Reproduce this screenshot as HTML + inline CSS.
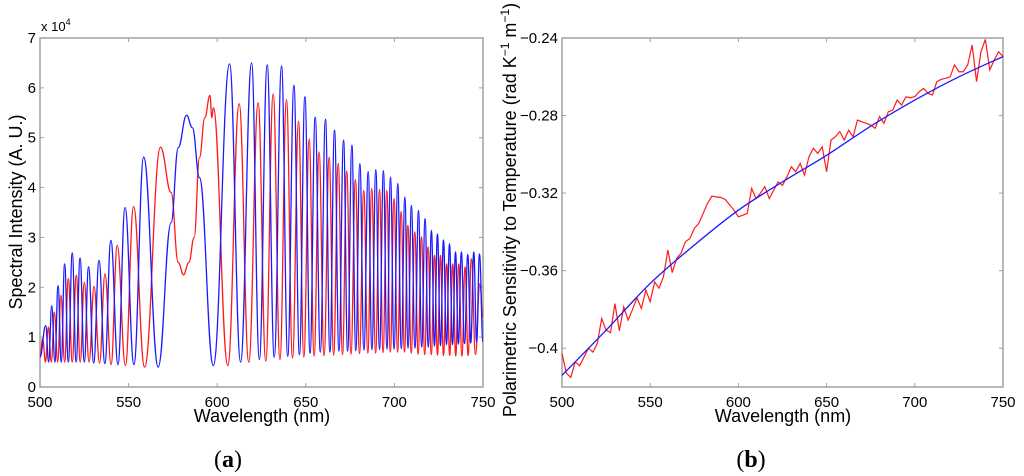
<!DOCTYPE html>
<html><head><meta charset="utf-8"><style>
html,body{margin:0;padding:0;background:#fff;width:1024px;height:476px;overflow:hidden}
svg text{font-family:"Liberation Sans",Arial,sans-serif;fill:#000}
</style></head><body>
<svg id="chart" width="1024" height="476" viewBox="0 0 1024 476" xmlns="http://www.w3.org/2000/svg"></svg>
<script>
// ---------- Panel (a) data: extrema of the spectra (wavelength nm, intensity x1e4) ----------
const aXTicks=[500,550,600,650,700,750];
const aYTicks=[0,1,2,3,4,5,6,7];
const blueWl=[500,503.2,504.9,506.6,508.4,510.2,512,513.9,516,518.2,520.4,522.6,525,527.4,530.3,533.3,536.6,540,544,548,553,558.5,566.7,574,578,582.7,586,590,597.8,607,613.2,619.4,623.8,628.2,632.2,636.3,639.8,643.3,646.4,649.5,652.4,655.3,658.2,661.1,663.6,666.2,668.7,671.3,673.6,676,678.2,680.5,682.8,685.2,687.3,689.5,691.6,693.8,695.8,697.8,699.8,701.9,703.9,705.9,707.7,709.6,711.6,713.6,715.4,717.3,719.1,720.9,722.6,724.3,726,727.7,729.4,731.1,732.8,734.5,736.1,737.8,739.6,741.4,743.1,744.8,746.4,748,750];
const blueVal=[0.6,1.23,0.5,1.63,0.5,2.03,0.5,2.47,0.5,2.69,0.5,2.59,0.5,2.41,0.48,2.54,0.47,2.94,0.45,3.6,0.45,4.61,0.4,3.3,4.8,5.45,5.2,4.2,0.43,6.48,0.5,6.5,0.55,6.46,0.6,6.44,0.62,6.05,0.65,5.82,0.68,5.41,0.7,5.37,0.7,5.15,0.72,4.95,0.72,4.85,0.73,4.48,0.74,4.32,0.75,4.36,0.75,4.34,0.76,4.21,0.76,4.08,0.77,3.81,0.78,3.64,0.78,3.54,0.8,3.38,0.8,3.14,0.82,3.07,0.83,2.95,0.85,2.87,0.85,2.71,0.86,2.71,0.87,2.66,0.88,2.71,0.9,2.67,0.9];
const redWl=[500,501.5,503.1,504.7,506.4,508.1,510,511.8,513.9,516,518.2,520.5,522.7,525,527.7,530.5,533.6,536.7,540.1,543.6,548.2,552.8,559,568,574,578,581,584,587,590,593,595.9,597,597.8,606,612.4,617.8,623.1,627.4,631.6,635.4,639.1,642.5,645.9,648.9,651.9,654.7,657.5,660.3,663.2,665.7,668.3,670.7,673.1,675.5,678,680.3,682.7,685,687.2,689.4,691.6,693.6,695.7,697.7,699.8,701.8,703.8,705.7,707.6,709.5,711.5,713.4,715.3,717.1,719,720.8,722.6,724.3,726,727.7,729.5,731.2,732.9,734.6,736.3,738.1,739.9,741.6,743.4,745.8,748.2,750];
const redVal=[0.6,0.97,0.5,1.2,0.5,1.5,0.5,1.84,0.5,2.17,0.5,2.24,0.5,2.1,0.5,2.02,0.48,2.27,0.45,2.84,0.43,3.62,0.4,4.81,3.9,2.5,2.25,2.5,3.0,4.6,5.4,5.85,5.4,5.6,0.43,5.68,0.5,5.7,0.52,5.88,0.55,5.76,0.58,5.33,0.6,4.97,0.62,4.71,0.63,4.61,0.64,4.48,0.65,4.33,0.66,4.16,0.67,3.94,0.68,3.98,0.68,3.96,0.69,3.94,0.7,3.78,0.7,3.52,0.7,3.24,0.68,3.11,0.66,3.01,0.65,2.81,0.65,2.64,0.64,2.64,0.63,2.47,0.63,2.47,0.62,2.47,0.62,2.41,0.63,2.57,0.65,2.07,1.4];

// ---------- Panel (b) data ----------
const bXTicks=[500,550,600,650,700,750];
const bYTicks=[-0.24,-0.28,-0.32,-0.36,-0.4];
const bYTickLabels=["\u22120.24","\u22120.28","\u22120.32","\u22120.36","\u22120.4"];
const fitWl=[500,525,550,575,600,625,650,675,700,725,750];
const fitVal=[-0.414,-0.3907,-0.3666,-0.3468,-0.3288,-0.3142,-0.3005,-0.2855,-0.272,-0.260,-0.2496];
const measWlStart=500, measWlStep=2.5;
const measVal=[-0.4027,-0.413,-0.415,-0.407,-0.409,-0.4045,-0.400,-0.402,-0.3976,-0.3847,-0.3907,-0.392,-0.377,-0.391,-0.3787,-0.3855,-0.380,-0.374,-0.3795,-0.370,-0.376,-0.3658,-0.369,-0.3632,-0.3494,-0.361,-0.3537,-0.351,-0.345,-0.3434,-0.3382,-0.3357,-0.3305,-0.3253,-0.3215,-0.322,-0.3222,-0.3233,-0.326,-0.3288,-0.3322,-0.3314,-0.3305,-0.3176,-0.3228,-0.320,-0.3167,-0.3228,-0.3185,-0.3142,-0.316,-0.3116,-0.3064,-0.309,-0.3047,-0.3107,-0.3012,-0.2969,-0.2995,-0.2961,-0.309,-0.2926,-0.2909,-0.2883,-0.2926,-0.2875,-0.291,-0.2823,-0.2832,-0.284,-0.2849,-0.2866,-0.2806,-0.284,-0.278,-0.2772,-0.272,-0.2746,-0.2703,-0.2708,-0.2703,-0.2677,-0.266,-0.2686,-0.2694,-0.2625,-0.2613,-0.2608,-0.26,-0.2539,-0.2574,-0.2574,-0.2539,-0.2436,-0.2625,-0.2471,-0.2407,-0.2565,-0.2514,-0.2471,-0.2496];

const NS="http://www.w3.org/2000/svg";
const svg=document.getElementById('chart');
function mk(tag,attrs,parent){const e=document.createElementNS(NS,tag);for(const k in attrs)e.setAttribute(k,attrs[k]);(parent||svg).appendChild(e);return e;}

const aL=40,aR=483,aT=38,aB=387;
const ax=w=>aL+(w-500)/250*(aR-aL);
const ay=v=>aB-v/7*(aB-aT);
const bL=562,bR=1003,bT=38,bB=387;
const bx=w=>bL+(w-500)/250*(bR-bL);
const by=v=>bB-(v+0.42)/0.18*(bB-bT);

function extremaPath(ws,vs,fx,fy){
  let d='M'+fx(ws[0]).toFixed(2)+','+fy(vs[0]).toFixed(2);
  for(let i=1;i<ws.length;i++){
    const x0=fx(ws[i-1]),y0=fy(vs[i-1]),x1=fx(ws[i]),y1=fy(vs[i]);
    const dx=(x1-x0)*0.42;
    d+=' C'+(x0+dx).toFixed(2)+','+y0.toFixed(2)+' '+(x1-dx).toFixed(2)+','+y1.toFixed(2)+' '+x1.toFixed(2)+','+y1.toFixed(2);
  }
  return d;
}
function smoothPath(ws,vs,fx,fy){
  const p=ws.map((w,i)=>[fx(w),fy(vs[i])]);
  let d='M'+p[0][0]+','+p[0][1];
  for(let i=0;i<p.length-1;i++){
    const p0=p[Math.max(0,i-1)],p1=p[i],p2=p[i+1],p3=p[Math.min(p.length-1,i+2)];
    const c1=[p1[0]+(p2[0]-p0[0])/6,p1[1]+(p2[1]-p0[1])/6];
    const c2=[p2[0]-(p3[0]-p1[0])/6,p2[1]-(p3[1]-p1[1])/6];
    d+=' C'+c1+' '+c2+' '+p2;
  }
  return d;
}

function frame(L,R,T,B,xt,fx,yt,fy,ylabels,name){
  const g=mk('g',{});
  
  
  mk('rect',{x:L,y:T,width:R-L,height:B-T,fill:'#fff',stroke:'#a0a0a0','stroke-width':1.5},g);
  xt.forEach(t=>{const x=fx(t);
    mk('line',{x1:x,y1:B,x2:x,y2:B-4,stroke:'#a0a0a0','stroke-width':1},g);
    mk('line',{x1:x,y1:T,x2:x,y2:T+4,stroke:'#a0a0a0','stroke-width':1},g);
    const tx=mk('text',{x:x,y:B+20,'text-anchor':'middle','font-size':15},g);
    
    
    tx.textContent=t;});
  yt.forEach((t,i)=>{const y=fy(t);
    mk('line',{x1:L,y1:y,x2:L+4,y2:y,stroke:'#a0a0a0','stroke-width':1},g);
    mk('line',{x1:R,y1:y,x2:R-4,y2:y,stroke:'#a0a0a0','stroke-width':1},g);
    const tx=mk('text',{x:L-4,y:y+5,'text-anchor':'end','font-size':15},g);
    
    
    tx.textContent=ylabels[i];});
  return g;
}

// Panel (a)
frame(aL,aR,aT,aB,aXTicks,ax,aYTicks,ay,aYTicks.map(String),'panel-a');
let t=mk('text',{x:41,y:31,'font-size':13});


t.innerHTML='x 10<tspan dy="-6" font-size="9">4</tspan>';
let p=mk('path',{d:extremaPath(redWl,redVal,ax,ay),fill:'none',stroke:'#ff1a1a','stroke-width':1.3});


p=mk('path',{d:extremaPath(blueWl,blueVal,ax,ay),fill:'none',stroke:'#1a1aff','stroke-width':1.3});


t=mk('text',{x:262,y:422,'text-anchor':'middle','font-size':18});


t.textContent='Wavelength (nm)';
t=mk('text',{x:0,y:0,'text-anchor':'middle','font-size':18,transform:'translate(22,212) rotate(-90)'});


t.textContent='Spectral Intensity (A. U.)';
t=mk('text',{x:228,y:467,'text-anchor':'middle','font-size':24,style:'font-family:"Liberation Serif",serif'});


t.innerHTML='(<tspan font-weight="bold">a</tspan>)';

// Panel (b)
frame(bL,bR,bT,bB,bXTicks,bx,bYTicks,by,bYTickLabels,'panel-b');
const measWl=measVal.map((v,i)=>measWlStart+i*measWlStep);
let d='M'+measWl.map((w,i)=>bx(w).toFixed(2)+','+by(measVal[i]).toFixed(2)).join(' L');
p=mk('path',{d:d,fill:'none',stroke:'#ff1a1a','stroke-width':1.2});


p=mk('path',{d:smoothPath(fitWl,fitVal,bx,by),fill:'none',stroke:'#1a1aff','stroke-width':1.3});


t=mk('text',{x:783,y:422,'text-anchor':'middle','font-size':18});


t.textContent='Wavelength (nm)';
t=mk('text',{x:0,y:0,'text-anchor':'middle','font-size':18,transform:'translate(516,210) rotate(-90)'});


t.innerHTML='Polarimetric Sensitivity to Temperature (rad K<tspan dy="-7" font-size="12">\u22121</tspan><tspan dy="7"> m</tspan><tspan dy="-7" font-size="12">\u22121</tspan><tspan dy="7">)</tspan>';
t=mk('text',{x:751,y:467,'text-anchor':'middle','font-size':24,style:'font-family:"Liberation Serif",serif'});


t.innerHTML='(<tspan font-weight="bold">b</tspan>)';
</script>
</body></html>
